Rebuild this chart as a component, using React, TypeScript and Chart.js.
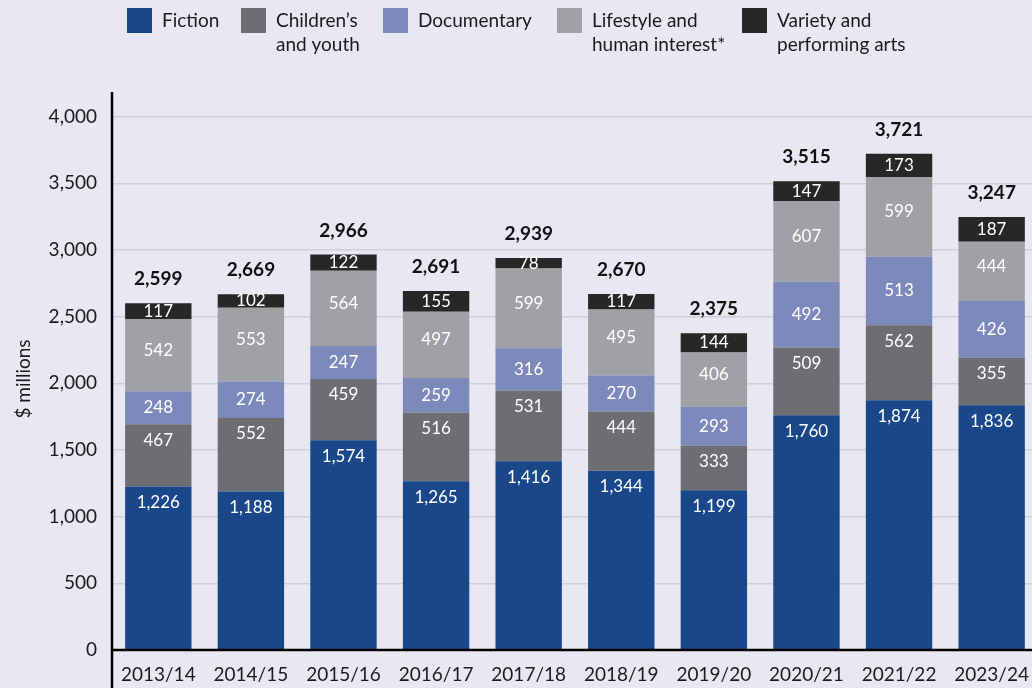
import React, { useEffect, useRef } from "react";
import { Chart, registerables } from "chart.js";

Chart.register(...registerables);

const categories = ["2013/14", "2014/15", "2015/16", "2016/17", "2017/18", "2018/19", "2019/20", "2020/21", "2021/22", "2023/24"];
const fiction = [1226, 1188, 1574, 1265, 1416, 1344, 1199, 1760, 1874, 1836];
const childrenYouth = [467, 552, 459, 516, 531, 444, 333, 509, 562, 355];
const documentary = [248, 274, 247, 259, 316, 270, 293, 492, 513, 426];
const lifestyle = [542, 553, 564, 497, 599, 495, 406, 607, 599, 444];
const variety = [117, 102, 122, 155, 78, 117, 144, 147, 173, 187];
const totals = [2599, 2669, 2966, 2691, 2939, 2670, 2375, 3515, 3721, 3247];
const seriesNames = [
  ["Fiction"],
  ["Children\u2019s", "and youth"],
  ["Documentary"],
  ["Lifestyle and", "human interest*"],
  ["Variety and", "performing arts"],
];
const yTickValues = [0, 500, 1000, 1500, 2000, 2500, 3000, 3500, 4000];
const yTitle = "$ millions";

const COLORS = ["#19478A", "#6D6E72", "#7C89BB", "#A0A1A5", "#272727"];
const LABEL_MODE = ["top", "top", "center", "centerUp", "center"];
const BG = "#E8E8F2";
const FONT = "Lato, 'Open Sans', sans-serif";
const LEGEND_X = [127, 241, 383, 557, 742];

const fmt = (v: number) => v.toLocaleString("en-US");

const decorPlugin = {
  id: "decor",
  beforeDraw(chart: any) {
    const ctx = chart.ctx;
    ctx.save();
    ctx.fillStyle = BG;
    ctx.fillRect(0, 0, chart.width, chart.height);
    ctx.restore();
  },
  afterDatasetsDraw(chart: any) {
    const ctx = chart.ctx;
    ctx.save();
    ctx.textAlign = "center";
    ctx.textBaseline = "middle";
    chart.data.datasets.forEach((ds: any, i: number) => {
      const meta = chart.getDatasetMeta(i);
      meta.data.forEach((bar: any, j: number) => {
        const top = Math.min(bar.y, bar.base);
        const bottom = Math.max(bar.y, bar.base);
        const h = bottom - top;
        let y = top + h / 2;
        if (LABEL_MODE[i] === "top") y = top + 16;
        if (LABEL_MODE[i] === "centerUp") y = top + h / 2 - 5;
        ctx.fillStyle = "#FFFFFF";
        ctx.font = `17px ${FONT}`;
        ctx.fillText(fmt(ds.data[j]), bar.x, y);
      });
    });
    const last = chart.getDatasetMeta(chart.data.datasets.length - 1);
    last.data.forEach((bar: any, j: number) => {
      const top = Math.min(bar.y, bar.base);
      ctx.fillStyle = "#111111";
      ctx.font = `bold 19px ${FONT}`;
      ctx.fillText(fmt(totals[j]), bar.x, top - 24);
    });
    ctx.restore();
  },
  afterDraw(chart: any) {
    const ctx = chart.ctx;
    const area = chart.chartArea;
    ctx.save();
    // axes
    ctx.strokeStyle = "#000000";
    ctx.lineWidth = 2.5;
    ctx.beginPath();
    ctx.moveTo(area.left, area.top);
    ctx.lineTo(area.left, chart.height);
    ctx.stroke();
    ctx.beginPath();
    ctx.moveTo(area.left, area.bottom);
    ctx.lineTo(chart.width, area.bottom);
    ctx.stroke();
    // y title
    ctx.save();
    ctx.translate(24, 379);
    ctx.rotate(-Math.PI / 2);
    ctx.fillStyle = "#1a1a1a";
    ctx.font = `19px ${FONT}`;
    ctx.textAlign = "center";
    ctx.textBaseline = "middle";
    ctx.fillText(yTitle, 0, 0);
    ctx.restore();
    // legend
    chart.data.datasets.forEach((ds: any, i: number) => {
      const x = LEGEND_X[i];
      ctx.fillStyle = COLORS[i];
      ctx.fillRect(x, 8, 25, 25);
      ctx.fillStyle = "#1a1a1a";
      ctx.font = `19px ${FONT}`;
      ctx.textAlign = "left";
      ctx.textBaseline = "middle";
      const lines: string[] = ds.label;
      lines.forEach((line, k) => {
        ctx.fillText(line, x + 35, 21 + k * 24);
      });
    });
    ctx.restore();
  },
};

export default function App() {
  const ref = useRef<HTMLCanvasElement>(null);
  useEffect(() => {
    if (!ref.current) return;
    const series = [fiction, childrenYouth, documentary, lifestyle, variety];
    const chart = new Chart(ref.current, {
      type: "bar",
      data: {
        labels: categories,
        datasets: series.map((d, i) => ({
          label: seriesNames[i] as any,
          data: d,
          backgroundColor: COLORS[i],
          borderWidth: 0,
          categoryPercentage: 1,
          barPercentage: 0.717,
        })),
      },
      options: {
        responsive: false,
        animation: false,
        devicePixelRatio: 1,
        layout: { padding: { top: 92, left: 0, right: 0, bottom: 0 } },
        plugins: { legend: { display: false }, tooltip: { enabled: false }, title: { display: false } },
        scales: {
          x: {
            stacked: true,
            grid: { display: false, drawTicks: false },
            border: { display: false },
            ticks: { color: "#1a1a1a", font: { family: FONT, size: 19 }, padding: 13, maxRotation: 0, autoSkip: false },
            afterFit: (scale: any) => { scale.height = 38; },
          },
          y: {
            stacked: true,
            min: 0,
            max: 4185,
            grid: { color: "#CFCFD8", lineWidth: 1.5, drawTicks: false },
            border: { display: false },
            ticks: {
              stepSize: 500,
              color: "#1a1a1a",
              font: { family: FONT, size: 19 },
              padding: 15,
              callback: (v: any) => fmt(Number(v)),
            },
            afterBuildTicks: (scale: any) => {
              scale.ticks = yTickValues.map((v) => ({ value: v }));
            },
            afterFit: (scale: any) => { scale.width = 112; },
          },
        },
      },
      plugins: [decorPlugin],
    });
    return () => chart.destroy();
  }, []);
  return (
    <div style={{ position: "fixed", left: 0, top: 0, width: 1032, height: 688, overflow: "hidden", background: BG }}>
      <canvas ref={ref} width={1042} height={688} style={{ display: "block" }} />
    </div>
  );
}
